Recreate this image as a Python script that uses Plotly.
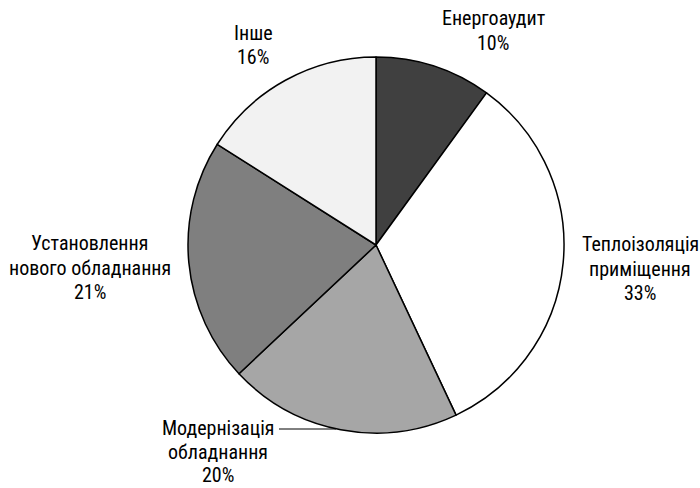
import plotly.graph_objects as go

categories = ["Енергоаудит", "Теплоізоляція приміщення", "Модернізація обладнання",
              "Установлення нового обладнання", "Інше"]
values = [10, 33, 20, 21, 16]
label_lines = [["Енергоаудит", "10%"],
               ["Теплоізоляція", "приміщення", "33%"],
               ["Модернізація", "обладнання", "20%"],
               ["Установлення", "нового обладнання", "21%"],
               ["Інше", "16%"]]
colors = ["#404040", "#ffffff", "#a6a6a6", "#7f7f7f", "#f2f2f2"]

W, H = 700, 488
# label positions in pixels: centre x, first-line centre y, line gap (layout only)
label_pos = [(493, 18, 24.5), (640, 244, 24.5), (218, 428, 23.5), (90, 243, 24.5), (253, 33, 24.5)]

fig = go.Figure(go.Pie(
    labels=categories, values=values, sort=False, direction="clockwise", rotation=0,
    textinfo="none", hoverinfo="label+percent",
    marker=dict(colors=colors, line=dict(color="#000000", width=1.5)),
    domain=dict(x=[188 / W, 564 / W], y=[(H - 433) / H, (H - 57) / H]),
    showlegend=False,
))

font = dict(family="Roboto Condensed, Liberation Sans, sans-serif", size=20, color="#000000",
            weight=400)
for lines, (px, py, gap) in zip(label_lines, label_pos):
    for k, line in enumerate(lines):
        fig.add_annotation(x=px / W, y=1 - (py + k * gap) / H, xref="paper", yref="paper",
                           text=line, showarrow=False, font=font, align="center",
                           xanchor="center", yanchor="middle", borderpad=0)

# leader line for Модернізація
fig.add_shape(type="line", xref="paper", yref="paper",
              x0=279 / W, x1=336 / W, y0=1 - 429 / H, y1=1 - 429 / H,
              line=dict(color="#000000", width=1))

fig.update_layout(width=W, height=H, margin=dict(l=0, r=0, t=0, b=0),
                  paper_bgcolor="#ffffff", plot_bgcolor="#ffffff")
fig.write_html("out.html", config={"displayModeBar": False},
               post_script="document.body.style.margin='0';")
